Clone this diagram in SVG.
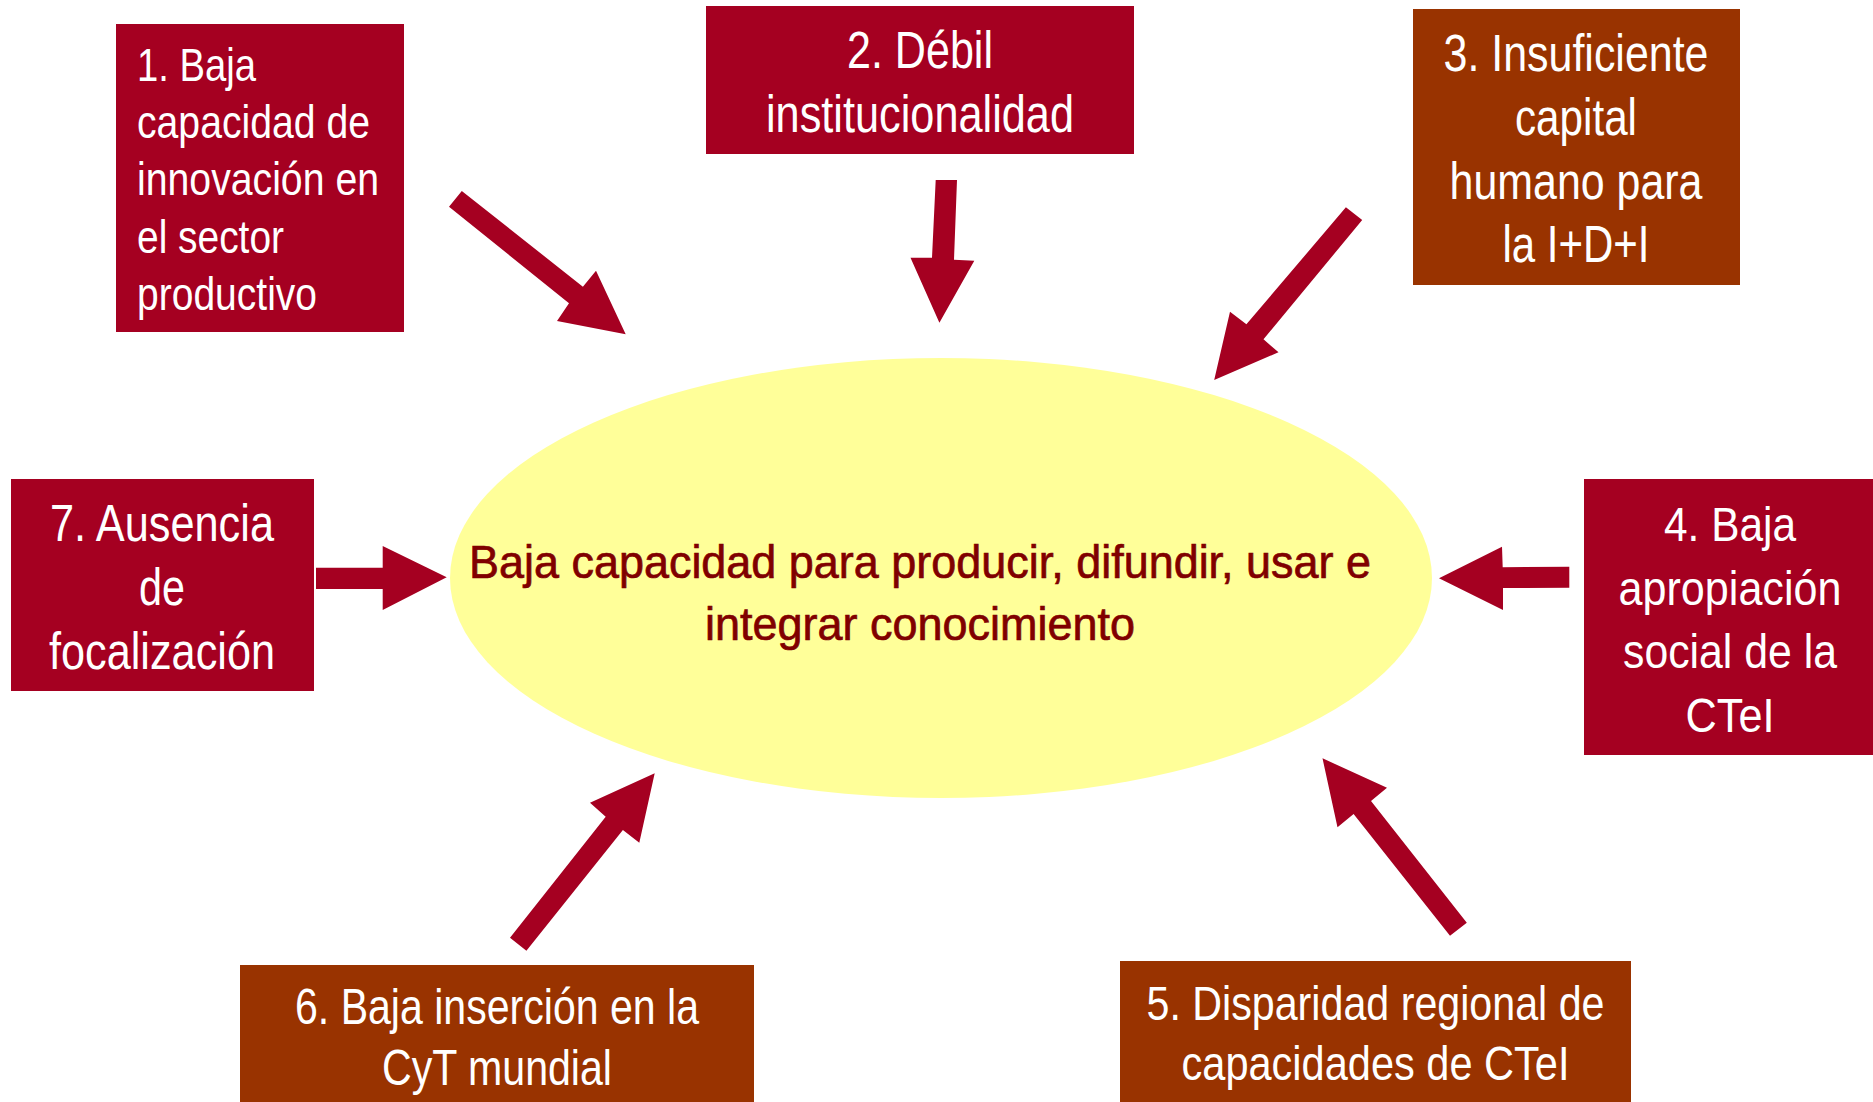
<svg xmlns="http://www.w3.org/2000/svg" width="1873" height="1102" viewBox="0 0 1873 1102">
<style>
.red{fill:#A50021}
.brown{fill:#993300}
.t{fill:#ffffff;font-family:"Liberation Sans Narrow","Liberation Sans",Arial,sans-serif}
.c{text-anchor:middle}
.core{fill:#800000;stroke:#800000;stroke-width:0.7px;font-family:"Liberation Sans Narrow","Liberation Sans",Arial,sans-serif;font-size:47px;text-anchor:middle}
.arrow{fill:#A50021}
</style>
<rect width="1873" height="1102" fill="#ffffff"/>
<g id="center">
<ellipse cx="941" cy="578" rx="491" ry="220" fill="#FFFF99"/>
<text class="core" x="920" y="578" textLength="902" lengthAdjust="spacingAndGlyphs">Baja capacidad para producir, difundir, usar e</text>
<text class="core" x="920" y="640" textLength="430" lengthAdjust="spacingAndGlyphs">integrar conocimiento</text>
</g>
<g id="connectors">
<polygon class="arrow" points="461.8,191 582.9,286.7 596,270.7 625.7,334.3 557,321 569,303.3 449,206.7"/>
<polygon class="arrow" points="935.7,180 957,180 954,259.7 974.3,260.7 939.4,322.7 910.5,257.7 932,257.7"/>
<polygon class="arrow" points="1345.9,207.3 1362.2,220 1263.5,339.3 1278.5,352.3 1214.2,380 1230,311.7 1246.4,324.3"/>
<polygon class="arrow" points="1569.3,566.7 1569.3,587.7 1503,588 1503,610 1439,578.3 1502,546.7 1502.7,567.3"/>
<polygon class="arrow" points="1466.8,922.7 1450,935.7 1353.6,814 1337.5,827.3 1322.5,758.3 1387,787.7 1371,801"/>
<polygon class="arrow" points="510,937.7 526.4,950.7 622.9,830 639.3,842.7 654.7,773.3 590,802.7 605.7,816.7"/>
<polygon class="arrow" points="316,567.7 382.7,567.7 382.7,546 446.7,577.3 382.7,610 382.7,589 316,589"/>
</g>
<g id="node1">
<rect class="red" x="116" y="24" width="288" height="308"/>
<g class="t" font-size="46">
<text x="137" y="81" textLength="119" lengthAdjust="spacingAndGlyphs">1. Baja</text>
<text x="137" y="138" textLength="233" lengthAdjust="spacingAndGlyphs">capacidad de</text>
<text x="137" y="195" textLength="242" lengthAdjust="spacingAndGlyphs">innovación en</text>
<text x="137" y="253" textLength="147" lengthAdjust="spacingAndGlyphs">el sector</text>
<text x="137" y="310" textLength="180" lengthAdjust="spacingAndGlyphs">productivo</text>
</g>
</g>
<g id="node2">
<rect class="red" x="706" y="6" width="428" height="148"/>
<g class="t c" font-size="51">
<text x="920" y="68" textLength="146" lengthAdjust="spacingAndGlyphs">2. Débil</text>
<text x="920" y="132" textLength="308" lengthAdjust="spacingAndGlyphs">institucionalidad</text>
</g>
</g>
<g id="node3">
<rect class="brown" x="1413" y="9" width="327" height="276"/>
<g class="t c" font-size="52">
<text x="1576" y="71" textLength="265" lengthAdjust="spacingAndGlyphs">3. Insuficiente</text>
<text x="1576" y="135" textLength="122" lengthAdjust="spacingAndGlyphs">capital</text>
<text x="1576" y="199" textLength="253" lengthAdjust="spacingAndGlyphs">humano para</text>
<text x="1576" y="262" textLength="147" lengthAdjust="spacingAndGlyphs">la I+D+I</text>
</g>
</g>
<g id="node4">
<rect class="red" x="1584" y="479" width="292" height="276"/>
<g class="t c" font-size="49">
<text x="1730" y="541" textLength="132" lengthAdjust="spacingAndGlyphs">4. Baja</text>
<text x="1730" y="605" textLength="223" lengthAdjust="spacingAndGlyphs">apropiación</text>
<text x="1730" y="668" textLength="214" lengthAdjust="spacingAndGlyphs">social de la</text>
<text x="1730" y="732" textLength="89" lengthAdjust="spacingAndGlyphs">CTeI</text>
</g>
</g>
<g id="node5">
<rect class="brown" x="1120" y="961" width="511" height="145"/>
<g class="t c" font-size="49">
<text x="1375.5" y="1020" textLength="458" lengthAdjust="spacingAndGlyphs">5. Disparidad regional de</text>
<text x="1375.5" y="1080" textLength="388" lengthAdjust="spacingAndGlyphs">capacidades de CTeI</text>
</g>
</g>
<g id="node6">
<rect class="brown" x="240" y="965" width="514" height="141"/>
<g class="t c" font-size="50">
<text x="497" y="1024" textLength="404" lengthAdjust="spacingAndGlyphs">6. Baja inserción en la</text>
<text x="497" y="1085" textLength="230" lengthAdjust="spacingAndGlyphs">CyT mundial</text>
</g>
</g>
<g id="node7">
<rect class="red" x="11" y="479" width="303" height="212"/>
<g class="t c" font-size="52">
<text x="162" y="541" textLength="224" lengthAdjust="spacingAndGlyphs">7. Ausencia</text>
<text x="162" y="605" textLength="46" lengthAdjust="spacingAndGlyphs">de</text>
<text x="162" y="669" textLength="226" lengthAdjust="spacingAndGlyphs">focalización</text>
</g>
</g>
</svg>
